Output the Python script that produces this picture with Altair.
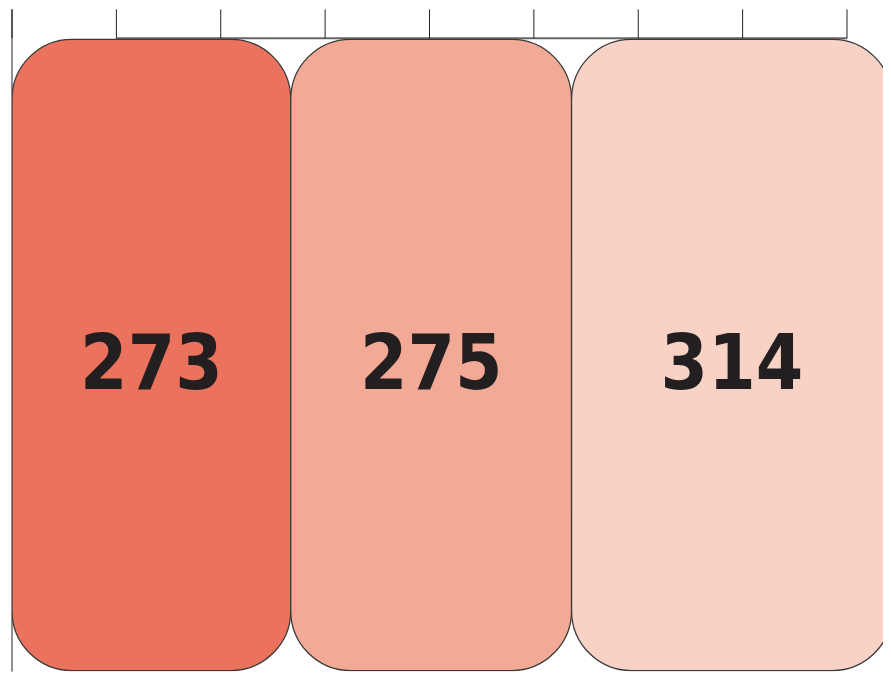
import altair as alt
import pandas as pd

# ---- data ----
segments = ["A", "B", "C"]
values = [273, 275, 314]
colors = ["#EB725D", "#F2AA96", "#F8D2C4"]
ticks = [0, 100, 200, 300, 400, 500, 600, 700, 800]

df = pd.DataFrame({"segment": segments, "value": values, "order": range(len(values))})
df["end"] = df["value"].cumsum()
df["start"] = df["end"] - df["value"]
df["mid"] = (df["start"] + df["end"]) / 2

tick_df = pd.DataFrame({"tick": ticks})
line_df = pd.DataFrame({"a": [ticks[1]], "b": [ticks[-1]]})
left_df = pd.DataFrame({"tick": [ticks[0]]})

W, H = 872, 663
TOP = 29
bar_scale = alt.Scale(domain=[0, 853], nice=False, zero=False)
tick_scale = alt.Scale(domain=[0, 834.5], nice=False, zero=False)

hline = alt.Chart(line_df).mark_rule(color="#666666", strokeWidth=2).encode(
    x=alt.X("a:Q", scale=tick_scale, axis=None),
    x2="b:Q",
    y=alt.value(TOP),
)

tick_rules = alt.Chart(tick_df).mark_rule(color="#231F20", strokeWidth=1).encode(
    x=alt.X("tick:Q", scale=tick_scale, axis=None),
    y=alt.value(0),
    y2=alt.value(TOP),
)

left_rule = alt.Chart(left_df).mark_rule(color="#231F20", strokeWidth=1).encode(
    x=alt.X("tick:Q", scale=tick_scale, axis=None),
    y=alt.value(0),
    y2=alt.value(H),
)

bars = alt.Chart(df).mark_bar(
    cornerRadius=60, stroke="#3A3A3A", strokeWidth=1.3, clip=True
).encode(
    x=alt.X("start:Q", scale=bar_scale, axis=None),
    x2="end:Q",
    y=alt.value(TOP + 1),
    y2=alt.value(H - 1),
    color=alt.Color("segment:N", scale=alt.Scale(domain=segments, range=colors), legend=None),
)

labels = alt.Chart(df).mark_text(
    font="Liberation Sans Narrow, DejaVu Sans Condensed, sans-serif",
    fontWeight="bold",
    fontSize=76,
    color="#231F20",
    baseline="alphabetic",
    align="center",
).encode(
    x=alt.X("mid:Q", scale=bar_scale, axis=None),
    y=alt.value(380),
    text=alt.Text("value:Q"),
)

chart = (
    alt.layer(hline, tick_rules, left_rule, bars, labels)
    .resolve_scale(x="independent")
    .properties(
        width=W,
        height=H,
        padding={"left": 3, "top": 0, "right": 0, "bottom": 0},
    )
    .configure_view(stroke=None)
)

chart.save("out.html", embed_options={"renderer": "svg", "actions": False})
